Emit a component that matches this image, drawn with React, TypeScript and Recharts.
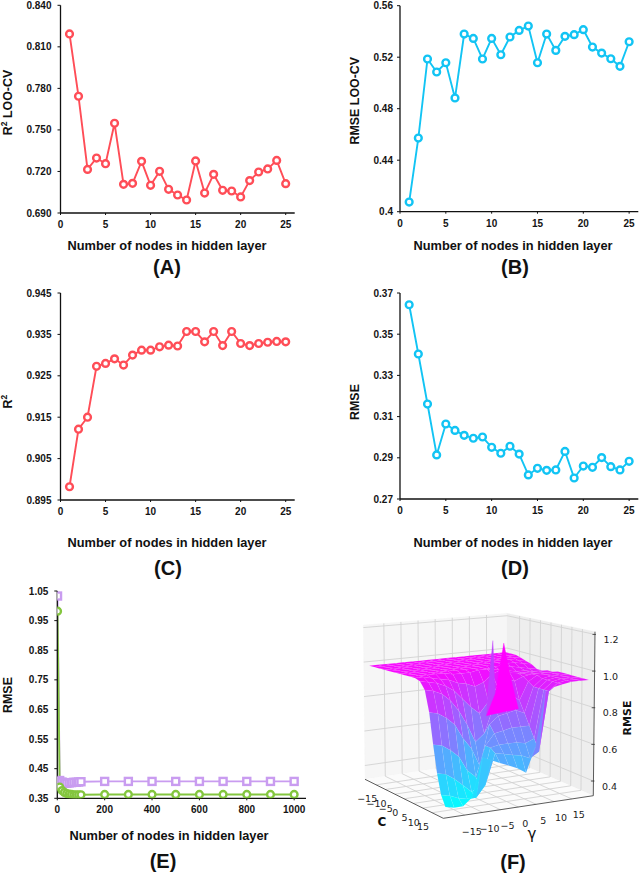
import React from 'react';
import { LineChart, Line, XAxis, YAxis, ScatterChart, Scatter } from 'recharts';

const SANS = '"Liberation Sans", Arial, sans-serif';
const DEJA = '"DejaVu Sans", sans-serif';
const RED = '#ff4d57';
const BLUE = '#12c4f4';
const PURPLE = '#c99cf0';
const GREEN = '#84c63f';

const nodes25 = [1,2,3,4,5,6,7,8,9,10,11,12,13,14,15,16,17,18,19,20,21,22,23,24,25];
const r2LooCv = [0.8193,0.7743,0.7215,0.7297,0.7256,0.7548,0.7107,0.7114,0.7273,0.71,0.7201,0.7071,0.703,0.6994,0.7276,0.7044,0.7179,0.7064,0.7059,0.7016,0.7134,0.7196,0.7218,0.728,0.7112];
const rmseLooCv = [0.4075,0.4572,0.5186,0.5085,0.5157,0.4883,0.538,0.5346,0.5186,0.5346,0.5219,0.5357,0.5408,0.5442,0.5157,0.538,0.5253,0.5362,0.5375,0.5414,0.5279,0.5232,0.5188,0.5129,0.532];
const r2Train = [0.8982,0.9121,0.915,0.9273,0.928,0.9291,0.9276,0.93,0.9312,0.9312,0.932,0.9324,0.9322,0.9357,0.9357,0.9332,0.9357,0.9323,0.9357,0.9328,0.9323,0.9328,0.9331,0.9333,0.9332];
const rmseTrain = [0.3643,0.3404,0.3161,0.2914,0.3064,0.3033,0.3009,0.2995,0.3001,0.2951,0.2922,0.2956,0.2918,0.2817,0.2849,0.2839,0.2841,0.2931,0.2802,0.286,0.2854,0.2901,0.2857,0.2841,0.2883];
const nodesE = [1,10,20,30,40,50,60,70,80,90,100,200,300,400,500,600,700,800,900,1000];
const rmsePurple = [1.033,0.41,0.405,0.401,0.401,0.402,0.403,0.404,0.404,0.405,0.406,0.407,0.407,0.407,0.407,0.407,0.407,0.407,0.407,0.407];
const rmseGreen = [0.982,0.388,0.376,0.37,0.366,0.364,0.363,0.362,0.362,0.362,0.362,0.363,0.363,0.363,0.363,0.363,0.363,0.363,0.363,0.363];

const table = (xs: number[], ys: number[]) => xs.map((x, i) => ({ x, y: ys[i] }));

const tickStyle = { fontSize: 10, fontWeight: 700, fill: '#141414', fontFamily: SANS };

function Txt({ x, y, size = 12, rotate = false, children, family = SANS }: any) {
  return (
    <text x={x} y={y} textAnchor="middle" dominantBaseline="central" fontFamily={family} fontWeight={700}
      fontSize={size} fill="#111" transform={rotate ? `rotate(-90 ${x} ${y})` : undefined}>{children}</text>
  );
}

const circleDot = (color: string) => (p: any) => (
  <circle key={p.key ?? p.index} cx={p.cx} cy={p.cy} r={3.4} fill="#fff" stroke={color} strokeWidth={2.4} />
);
const squareDot = (color: string) => (p: any) => (
  <rect key={p.key ?? p.index} x={p.cx - 3.5} y={p.cy - 3.5} width={7} height={7} fill="#fff" stroke={color} strokeWidth={2.4} />
);

function Panel({ ox, oy, plotL, plotT, plotR, plotB, xDomain, xTicks, yDomain, yTicks, yFmt, series, yTitle, yTitleX, yTitleY, xTitleX, xTitleY, tag, tagX, tagY, tickMargin, H = 300 }: any) {
  const W = 320;
  const axisH = H - (plotB - oy);
  return (
    <div style={{ position: 'absolute', left: ox, top: oy, width: W, height: H }}>
      <LineChart width={W} height={H} data={series[0].data}
        margin={{ left: 0, top: plotT - oy, right: ox + W - plotR, bottom: 0 }}>
        <XAxis dataKey="x" type="number" domain={xDomain} ticks={xTicks} interval={0} height={axisH}
          tick={tickStyle} tickSize={2} tickMargin={6} stroke="#111" axisLine={{ stroke: '#111', strokeWidth: 1.3 }} tickLine={{ stroke: '#111' }} allowDataOverflow />
        <YAxis dataKey="y" type="number" domain={yDomain} ticks={yTicks} interval={0} width={plotL - ox}
          tickFormatter={yFmt} tick={tickStyle} tickSize={3} tickMargin={tickMargin} axisLine={{ stroke: '#111', strokeWidth: 1.3 }} tickLine={{ stroke: '#111' }} allowDataOverflow />
        {series.map((s: any, i: number) => (
          <Line key={i} data={s.data} dataKey="y" stroke={s.color} strokeWidth={1.9} dot={s.dot} isAnimationActive={false} />
        ))}
        <Txt x={yTitleX - ox} y={yTitleY - oy} rotate size={12.4}>{yTitle}</Txt>
        <Txt x={xTitleX - ox} y={xTitleY - oy} size={12.8}>Number of nodes in hidden layer</Txt>
        <Txt x={tagX - ox} y={tagY - oy} size={20}>{tag}</Txt>
      </LineChart>
    </div>
  );
}

const r2Title = (rest: string) => (
  <>R<tspan fontSize={8.5} dy={-4}>2</tspan><tspan dy={4}>{rest}</tspan></>
);

/* ---------- Panel F: RMSE surface over C and gamma ---------- */
const gridC = [-20,-17.5,-15,-12.5,-10,-7.5,-5,-2.5,0,2.5,5,7.5,10,12.5,15,17.5,20];
const gridGamma = [-20,-17.5,-15,-12.5,-10,-7.5,-5,-2.5,0,2.5,5,7.5,10,12.5,15,17.5,20];
const surfaceZ = [
  [.98,.98,.98,.98,.98,.98,.98,.98,.98,.98,.98,.98,.98,.98,.98,.98,.98],
  [.98,.98,.98,.98,.98,.98,.98,.98,.98,.98,.98,.98,.98,.98,.98,.98,.98],
  [.98,.98,.98,.98,.98,.98,.98,.98,.98,.98,.98,.98,.98,.98,.98,.98,.98],
  [.98,.98,.98,.98,.98,.98,.98,.98,.98,.98,.98,.98,.98,.98,.98,.98,.97],
  [.98,.98,.98,.98,.98,.98,.98,.98,.98,.98,.98,.98,.98,.98,.98,.97,.96],
  [.98,.98,.98,.98,.98,.98,.98,.98,.98,.98,.98,.98,.98,.97,.97,.96,.95],
  [.98,.98,.98,.98,.98,.98,.98,.98,.98,.98,.98,.97,.97,.96,.95,.94,.93],
  [.98,.98,.98,.98,.98,.98,.98,.98,.98,.98,.97,.96,.95,.94,.94,.93,.93],
  [.98,.98,.98,.98,.98,.97,.97,.97,.98,.98,.97,.96,.94,.94,.94,.94,.94],
  [.98,.98,.97,.96,.95,.93,.92,.9,.92,.96,.98,.96,.95,.94,.94,.94,.94],
  [.97,.96,.95,.93,.9,.85,.8,.76,.82,.9,.94,.92,.94,.95,.95,.95,.95],
  [.93,.92,.9,.86,.8,.72,.62,.66,.8,.86,.86,.82,.92,.95,.95,.95,.95],
  [.82,.81,.78,.74,.66,.6,.5,.72,.76,.77,.78,.76,.9,.94,.95,.95,.95],
  [.66,.65,.62,.58,.5,.46,.62,.68,.69,.7,.7,.7,.9,.94,.95,.95,.95],
  [.52,.51,.48,.44,.4,.42,.62,.63,.63,.63,.62,.64,.9,.94,.95,.95,.95],
  [.42,.41,.39,.38,.38,.44,.6,.59,.58,.57,.55,.58,.9,.94,.95,.95,.95],
  [.37,.36,.36,.4,.6,.58,.56,.54,.52,.49,.62,.91,.93,.94,.95,.95,.95],
];
/* the two narrow peaks near C = 8.4: [C, gamma, RMSE] corners and the colour level of each facet */
const peakFacets = [
  { level: 0.84, corners: [[8.4, -1.05, 1.167], [8.4, -0.07, 0.876], [8.4, -2.5, 0.761], [8.4, -2.2, 0.9]] },
  { level: 1.0, corners: [[8.4, 2.15, 1.149], [8.4, 4.3, 0.956], [8.4, 6.7, 0.78], [8.4, -2.5, 0.761], [8.4, -0.07, 0.876]] },
];
const zTicks = [0.4, 0.6, 0.8, 1.0, 1.2];
const axisTicks = [-15, -10, -5, 0, 5, 10, 15];

const BOX = 21, Z0 = 0.32, Z1 = 1.215;
const lerp = (a: number, b: number, t: number) => a + (b - a) * t;
const corners = {
  floor: { L: [35, 189.3], F: [113.3, 228.3], R: [263.3, 205.7], B: [177, 168] },
  top: { L: [33.3, 35], F: [121, 52], R: [265, 41.7], B: [177, 23.3] },
};
function project(c: number, g: number, z: number) {
  const u = (c + BOX) / (2 * BOX), v = (g + BOX) / (2 * BOX), w = (z - Z0) / (Z1 - Z0);
  const bil = (q: any, k: number) => lerp(lerp(q.L[k], q.F[k], u), lerp(q.B[k], q.R[k], u), v);
  return [lerp(bil(corners.floor, 0), bil(corners.top, 0), w), lerp(bil(corners.floor, 1), bil(corners.top, 1), w)];
}
function coolColor(z: number) {
  const t = Math.min(1, Math.max(0, (z - 0.36) / (1.0 - 0.36)));
  return `rgb(${Math.round(255 * t)},${Math.round(255 * (1 - t))},255)`;
}
function makeShape(pts: number[][], extra: any) {
  const x = pts.reduce((s, p) => s + p[0], 0) / pts.length;
  const y = pts.reduce((s, p) => s + p[1], 0) / pts.length;
  return { x, y, off: pts.map(p => [p[0] - x, p[1] - y]), ...extra };
}
const surfaceCells: any[] = [];
for (let i = 0; i < gridC.length - 1; i++) {
  for (let j = gridGamma.length - 2; j >= 0; j--) {
    const zs = [surfaceZ[i][j], surfaceZ[i + 1][j], surfaceZ[i + 1][j + 1], surfaceZ[i][j + 1]];
    surfaceCells.push(makeShape([
      project(gridC[i], gridGamma[j], zs[0]),
      project(gridC[i + 1], gridGamma[j], zs[1]),
      project(gridC[i + 1], gridGamma[j + 1], zs[2]),
      project(gridC[i], gridGamma[j + 1], zs[3]),
    ], { fill: coolColor((zs[0] + zs[1] + zs[2] + zs[3]) / 4) }));
  }
}
const peakCells = peakFacets.map(f => makeShape(f.corners.map(k => project(k[0], k[1], k[2])), { fill: coolColor(f.level) }));
const E = BOX;
const panes = [
  makeShape([project(-E, -E, Z0), project(-E, E, Z0), project(-E, E, Z1), project(-E, -E, Z1)], { fill: '#f6f6f6' }),
  makeShape([project(-E, E, Z0), project(E, E, Z0), project(E, E, Z1), project(-E, E, Z1)], { fill: '#eeeeee' }),
  makeShape([project(-E, -E, Z0), project(E, -E, Z0), project(E, E, Z0), project(-E, E, Z0)], { fill: '#fbfbfb' }),
];
const gridLines: any[] = [];
axisTicks.forEach(t => {
  gridLines.push(makeShape([project(-E, t, Z0), project(-E, t, Z1)], {}));
  gridLines.push(makeShape([project(t, E, Z0), project(t, E, Z1)], {}));
  gridLines.push(makeShape([project(t, -E, Z0), project(t, E, Z0)], {}));
  gridLines.push(makeShape([project(-E, t, Z0), project(E, t, Z0)], {}));
});
zTicks.forEach(z => {
  gridLines.push(makeShape([project(-E, -E, z), project(-E, E, z)], {}));
  gridLines.push(makeShape([project(-E, E, z), project(E, E, z)], {}));
});
const edges = [
  makeShape([project(-E, -E, Z0), project(E, -E, Z0)], {}),
  makeShape([project(E, -E, Z0), project(E, E, Z0)], {}),
  makeShape([project(E, E, Z0), project(E, E, Z1)], {}),
  ...zTicks.map(z => {
    const p = project(E, E, z);
    return makeShape([[p[0] - 2.5, p[1]], [p[0] + 1, p[1]]], {});
  }),
];
const fTexts: any[] = [
  ...axisTicks.map(t => { const p = project(t, -E, Z0); return { x: p[0] - 9, y: p[1] + 14, label: String(t).replace('-', '\u2212'), size: 9.5 }; }),
  ...axisTicks.map(t => { const p = project(E, t, Z0); return { x: p[0] + 7, y: p[1] + 16, label: String(t).replace('-', '\u2212'), size: 9.5 }; }),
  ...zTicks.map(z => { const p = project(E, E, z); return { x: p[0] + 16, y: p[1] + 5, label: z.toFixed(1), size: 9.5 }; }),
];

const polyShape = (stroke: string | null, sw: number) => (p: any) => {
  const d = p.payload;
  const pts = d.off.map((o: number[]) => `${p.cx + o[0]},${p.cy + o[1]}`).join(' ');
  return d.off.length === 2
    ? <polyline points={pts} fill="none" stroke={stroke as string} strokeWidth={sw} />
    : <polygon points={pts} fill={d.fill} stroke={stroke ?? d.fill} strokeWidth={sw} />;
};
const textShape = (p: any) => (
  <text x={p.cx} y={p.cy} textAnchor="middle" dominantBaseline="central" fontFamily={DEJA} fontSize={p.payload.size} fill="#222">{p.payload.label}</text>
);

function Surface() {
  const W = 310, H = 284;
  return (
    <div style={{ position: 'absolute', left: 330, top: 590, width: W, height: H }}>
      <ScatterChart width={W} height={H} margin={{ left: 0, right: 0, top: 0, bottom: 0 }}>
        <XAxis dataKey="x" type="number" domain={[0, W]} hide allowDataOverflow />
        <YAxis dataKey="y" type="number" domain={[0, H]} reversed hide allowDataOverflow />
        <Scatter data={panes} shape={polyShape(null, 0.3)} isAnimationActive={false} />
        <Scatter data={gridLines} shape={polyShape('#d2d2d2', 0.9)} isAnimationActive={false} />
        <Scatter data={edges} shape={polyShape('#333', 0.8)} isAnimationActive={false} />
        <Scatter data={surfaceCells} shape={polyShape('rgba(255,255,255,0.1)', 0.35)} isAnimationActive={false} />
        <Scatter data={peakCells} shape={polyShape(null, 0.3)} isAnimationActive={false} />
        <Scatter data={fTexts} shape={textShape} isAnimationActive={false} />
        <Txt x={52} y={232} size={12} family={DEJA}>C</Txt>
        <text x={202} y={244} textAnchor="middle" dominantBaseline="central" fontFamily={DEJA} fontSize={15} fill="#111">γ</text>
        <Txt x={297} y={128} size={11} rotate family={DEJA}>RMSE</Txt>
        <Txt x={183} y={272} size={20}>(F)</Txt>
      </ScatterChart>
    </div>
  );
}

const xT25 = [0, 5, 10, 15, 20, 25];

export default function App() {
  return (
    <div style={{ position: 'absolute', left: 0, top: 0, width: 640, height: 874, background: '#fff', overflow: 'hidden' }}>
      <Panel ox={0} oy={0} plotL={60.5} plotT={5.3} plotR={294.7} plotB={213} xDomain={[0, 26]} xTicks={xT25}
        yDomain={[0.69, 0.84]} yTicks={[0.69, 0.72, 0.75, 0.78, 0.81, 0.84]} yFmt={(v: number) => v.toFixed(3)} tickMargin={6}
        series={[{ data: table(nodes25, r2LooCv), color: RED, dot: circleDot(RED) }]}
        yTitle={r2Title(' LOO-CV')} yTitleX={8.3} yTitleY={102.5} xTitleX={167} xTitleY={245.7} tag="(A)" tagX={167} tagY={266.7} />
      <Panel ox={320} oy={0} plotL={400} plotT={5.7} plotR={638.3} plotB={211.7} xDomain={[0, 26]} xTicks={xT25}
        yDomain={[0.4, 0.56]} yTicks={[0.4, 0.44, 0.48, 0.52, 0.56]} yFmt={(v: number) => String(Number(v.toFixed(2)))} tickMargin={4}
        series={[{ data: table(nodes25, rmseLooCv), color: BLUE, dot: circleDot(BLUE) }]}
        yTitle="RMSE LOO-CV" yTitleX={355} yTitleY={100.7} xTitleX={513} xTitleY={245.7} tag="(B)" tagX={515} tagY={266.7} />
      <Panel ox={0} oy={285} plotL={60.5} plotT={293} plotR={294.7} plotB={500} xDomain={[0, 26]} xTicks={xT25}
        yDomain={[0.895, 0.945]} yTicks={[0.895, 0.905, 0.915, 0.925, 0.935, 0.945]} yFmt={(v: number) => v.toFixed(3)} tickMargin={6}
        series={[{ data: table(nodes25, r2Train), color: RED, dot: circleDot(RED) }]}
        yTitle={r2Title('')} yTitleX={8.3} yTitleY={401.7} xTitleX={167} xTitleY={542} tag="(C)" tagX={168} tagY={568} />
      <Panel ox={320} oy={285} plotL={400} plotT={293} plotR={638.3} plotB={499} xDomain={[0, 26]} xTicks={xT25}
        yDomain={[0.27, 0.37]} yTicks={[0.27, 0.29, 0.31, 0.33, 0.35, 0.37]} yFmt={(v: number) => v.toFixed(2)} tickMargin={4}
        series={[{ data: table(nodes25, rmseTrain), color: BLUE, dot: circleDot(BLUE) }]}
        yTitle="RMSE" yTitleX={355} yTitleY={402} xTitleX={513} xTitleY={542} tag="(D)" tagX={515} tagY={568} />
      <Panel ox={0} oy={575} H={299} plotL={57.3} plotT={591} plotR={306} plotB={798.3} xDomain={[0, 1050]} xTicks={[0, 200, 400, 600, 800, 1000]}
        yDomain={[0.35, 1.05]} yTicks={[0.35, 0.45, 0.55, 0.65, 0.75, 0.85, 0.95, 1.05]} yFmt={(v: number) => v.toFixed(2)} tickMargin={6}
        series={[
          { data: table(nodesE, rmsePurple), color: PURPLE, dot: squareDot(PURPLE) },
          { data: table(nodesE, rmseGreen), color: GREEN, dot: circleDot(GREEN) },
        ]}
        yTitle="RMSE" yTitleX={8} yTitleY={695} xTitleX={169} xTitleY={835.7} tag="(E)" tagX={163} tagY={861} />
      <Surface />
    </div>
  );
}
